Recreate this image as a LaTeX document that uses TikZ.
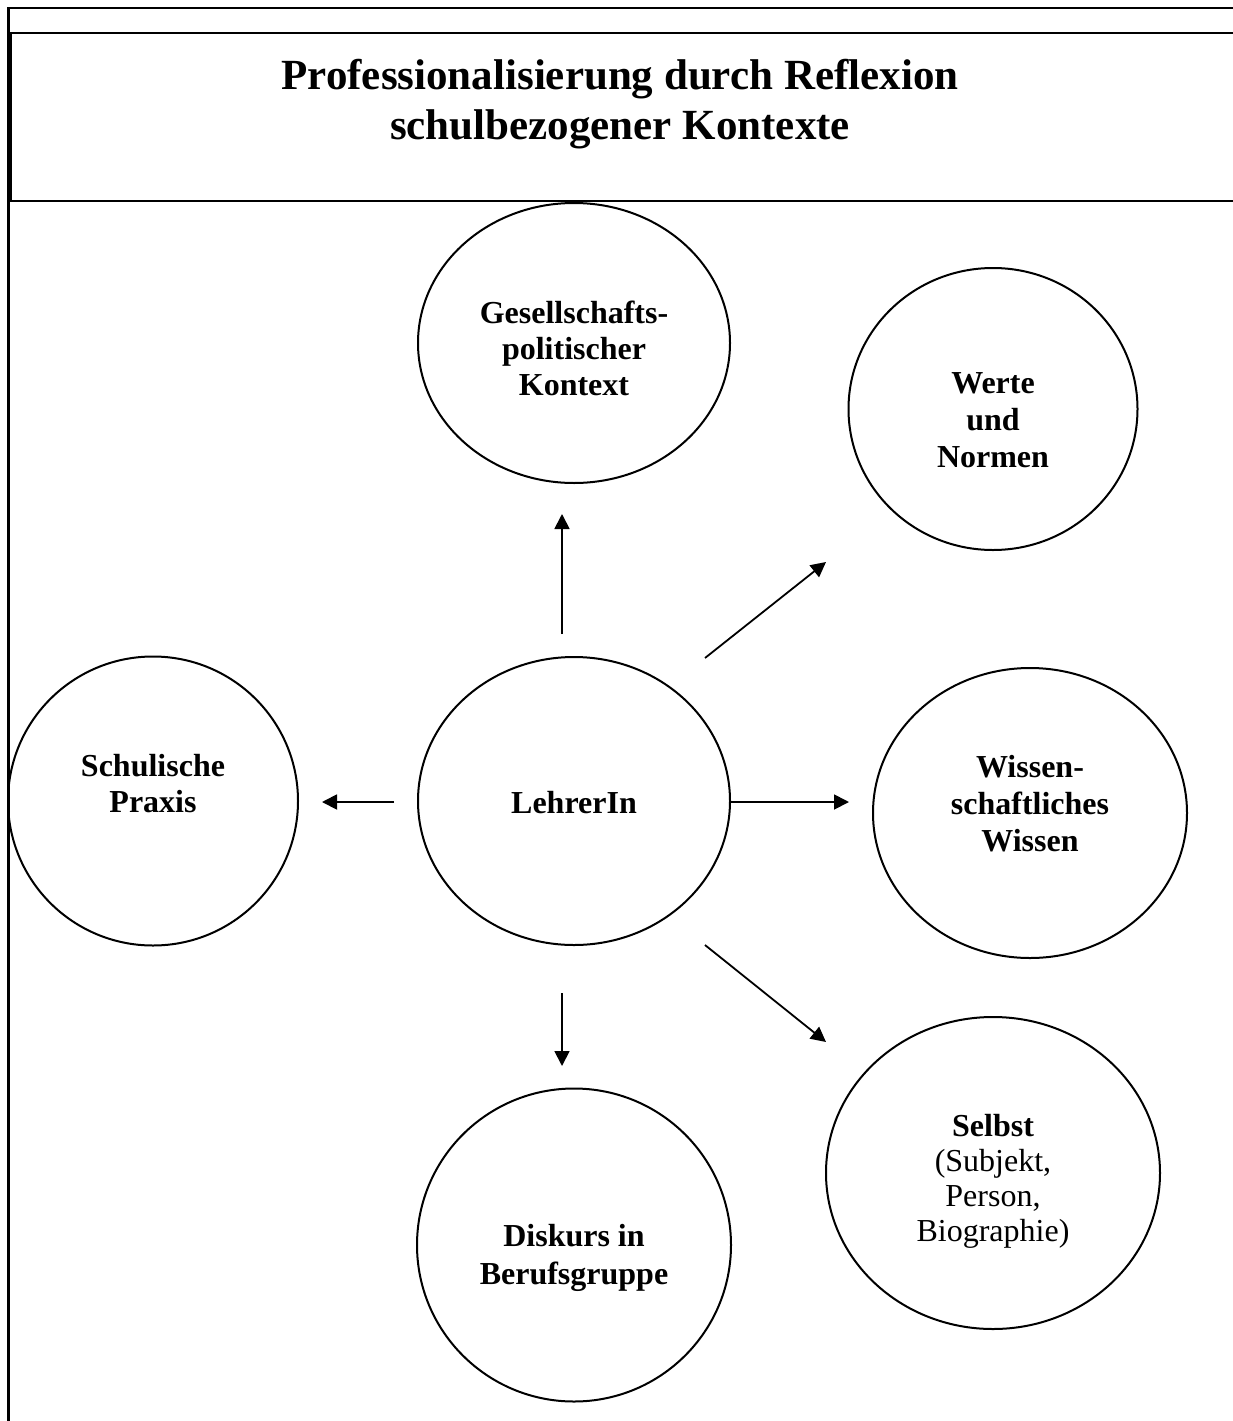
\documentclass[tikz,border=0pt]{standalone}
\usepackage{fontspec}
\setmainfont{Liberation Serif}
\usetikzlibrary{arrows.meta,shapes.geometric}
\tikzset{
  frameline/.style={line width=2.2pt, line cap=rect},
  circ/.style={draw, ellipse, line width=2pt, inner sep=0pt},
  lbl/.style={align=center, inner sep=0pt, font=\fontsize{32}{36}\selectfont},
  titlelbl/.style={align=center, inner sep=0pt, font=\bfseries\fontsize{43}{50}\selectfont},
  arr/.style={line width=1.8pt, -{Triangle[length=15pt,width=15pt]}}
}
\begin{document}
\begin{tikzpicture}[x=1pt,y=-1pt]
\useasboundingbox (0,0) rectangle (1233,1421);
% frame
\draw[frameline] (8.5,1430) -- (8.5,8) -- (1240,8);
\draw[frameline] (1240,33) -- (10.5,33) -- (10.5,201) -- (1240,201);
\node[titlelbl] (title) at (620,104) {Professionalisierung durch Reflexion\\schulbezogener Kontexte};
% circles
\node[circ, minimum width=312pt, minimum height=280pt] (gp) at (574,343) {};
\node[circ, minimum width=289pt, minimum height=282pt] (wn) at (993,409) {};
\node[circ, minimum width=290pt, minimum height=289pt] (sp) at (153,801) {};
\node[circ, minimum width=312pt, minimum height=288pt] (li) at (574,801) {};
\node[circ, minimum width=314pt, minimum height=290pt] (ww) at (1030,813) {};
\node[circ, minimum width=334pt, minimum height=312pt] (se) at (993,1173) {};
\node[circ, minimum width=314pt, minimum height=313pt] (dk) at (574,1245) {};
% labels
\node[lbl, font=\bfseries\fontsize{32}{36}\selectfont] (gpt) at (574,348) {Gesellschafts-\\politischer\\Kontext};
\node[lbl, font=\bfseries\fontsize{32}{37}\selectfont] (wnt) at (993,420) {Werte\\und\\Normen};
\node[lbl, font=\bfseries\fontsize{32}{36}\selectfont] (spt) at (153,784) {Schulische\\Praxis};
\node[lbl, font=\bfseries\fontsize{32}{36}\selectfont] (lit) at (574,803) {LehrerIn};
\node[lbl, font=\bfseries\fontsize{32}{37}\selectfont] (wwt) at (1030,804) {Wissen-\\schaftliches\\Wissen};
\node[lbl, font=\fontsize{32}{35}\selectfont] (set) at (993,1181) {\textbf{Selbst}\\(Subjekt,\\Person,\\Biographie)};
\node[lbl, font=\bfseries\fontsize{32}{38}\selectfont] (dkt) at (574,1258) {Diskurs in\\Berufsgruppe};
% arrow ends
\coordinate (a1s) at (562,634); \coordinate (a1e) at (562,514);
\coordinate (a2s) at (705,658); \coordinate (a2e) at (826,562);
\coordinate (a3s) at (394,802); \coordinate (a3e) at (322,802);
\coordinate (a4s) at (730,802); \coordinate (a4e) at (849,802);
\coordinate (a5s) at (562,993); \coordinate (a5e) at (562,1066);
\coordinate (a6s) at (705,945); \coordinate (a6e) at (826,1042);
\draw[arr] (a1s) -- (a1e);
\draw[arr] (a2s) -- (a2e);
\draw[arr] (a3s) -- (a3e);
\draw[arr] (a4s) -- (a4e);
\draw[arr] (a5s) -- (a5e);
\draw[arr] (a6s) -- (a6e);
\end{tikzpicture}
\end{document}
